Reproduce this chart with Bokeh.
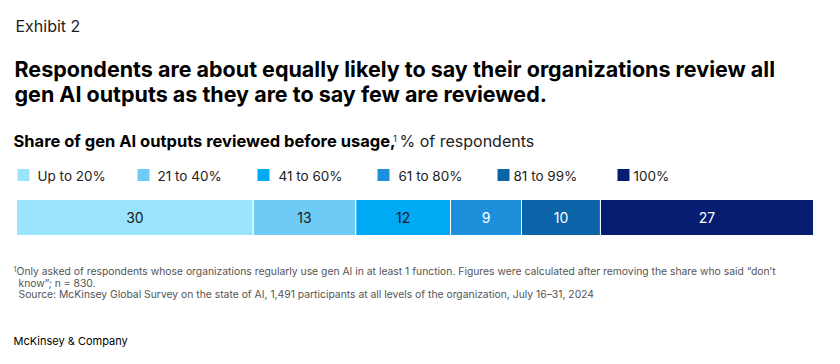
from bokeh.plotting import figure
from bokeh.models import Range1d, Label, ColumnDataSource
from bokeh.core.properties import value
from bokeh.embed import file_html
from bokeh.resources import INLINE

# ---- data ----
categories = ["Up to 20%", "21 to 40%", "41 to 60%", "61 to 80%", "81 to 99%", "100%"]
shares = [30, 13, 12, 9, 10, 27]
colors = ["#9BE4FD", "#6DCBF5", "#00A9F4", "#1E8FDB", "#0B63A8", "#061D72"]
label_colors = ["#1a1a1a", "#1a1a1a", "#1a1a1a", "#ffffff", "#ffffff", "#ffffff"]

FONT = "Inter"
W, H = 824, 348
K = 0.38  # baseline correction factor (fraction of font size)

p = figure(width=W, height=H, output_backend="svg", toolbar_location=None,
           x_range=Range1d(0, W), y_range=Range1d(H, 0),
           min_border=0, min_border_left=0, min_border_right=0,
           min_border_top=0, min_border_bottom=0)
p.axis.visible = False
p.grid.visible = False
p.outline_line_color = None
p.background_fill_color = "white"
p.border_fill_color = "white"

total = sum(shares)
bar_left_px, bar_right_px = 16, 813
scale = (bar_right_px - bar_left_px) / total
p.extra_x_ranges = {"pct": Range1d(-bar_left_px / scale,
                                   total + (W - bar_right_px) / scale)}

lefts, rights, mids = [], [], []
acc = 0
for s in shares:
    lefts.append(acc)
    rights.append(acc + s)
    mids.append(acc + s / 2)
    acc += s

src = ColumnDataSource(dict(cat=categories, left=lefts, right=rights, mid=mids,
                            val=[str(v) for v in shares], color=colors,
                            tcolor=label_colors, y=[217] * len(shares)))
p.hbar(y="y", left="left", right="right", height=36, fill_color="color",
       line_color="white", line_width=1, source=src, x_range_name="pct")
p.text(x="mid", y="y", text="val", text_color="tcolor", source=src,
       x_range_name="pct", text_align="center", text_baseline="middle",
       text_font=value(FONT), text_font_size="14px")

leg_size = 13.5
leg_x = [17 + i * 120 for i in range(len(categories))]
leg_tx = [37, 157, 278, 398, 513, 633]
lsrc = ColumnDataSource(dict(x=[x + 6 for x in leg_x], y=[174.5] * len(categories),
                             ty=[180.5 - K * leg_size] * len(categories),
                             tx=leg_tx, cat=categories, color=colors))
p.rect(x="x", y="y", width=12, height=12, fill_color="color", line_color=None,
       source=lsrc)
p.text(x="tx", y="ty", text="cat", source=lsrc,
       text_font=value(FONT), text_font_size=f"{leg_size}px", text_color="#222222",
       text_baseline="alphabetic")


def lab(x, baseline, text, size, style="normal", color="#000000"):
    p.add_layout(Label(x=x, y=baseline - K * size, text=text, text_font=FONT,
                       text_font_size=f"{size}px", text_font_style=style,
                       text_color=color, text_baseline="alphabetic"))


lab(15, 31.7, "Exhibit 2", 16, color="#222222")
lab(14, 76.7, "Respondents are about equally likely to say their organizations review all",
    21.5, "bold")
lab(14, 101.7, "gen AI outputs as they are to say few are reviewed.", 21.5, "bold")

lab(13, 147, "Share of gen AI outputs reviewed before usage,", 16.5, "bold")
lab(392.5, 142, "1", 9.5, color="#222222")
lab(399, 147, "% of respondents", 16, color="#222222")

fc = "#555555"
lab(13, 271, "1", 7, color=fc)
lab(16, 274, "Only asked of respondents whose organizations regularly use gen AI in at least 1 function. "
    "Figures were calculated after removing the share who said \u201cdon\u2019t", 10.35, color=fc)
lab(18, 286, "know\u201d; n = 830.", 10.35, color=fc)
lab(18, 297.5, "Source: McKinsey Global Survey on the state of AI, 1,491 participants at all levels "
    "of the organization, July 16\u201331, 2024", 10.35, color=fc)

lab(13, 344.5, "McKinsey & Company", 11, color="#000000")

open("out.html", "w").write(file_html(p, INLINE))
